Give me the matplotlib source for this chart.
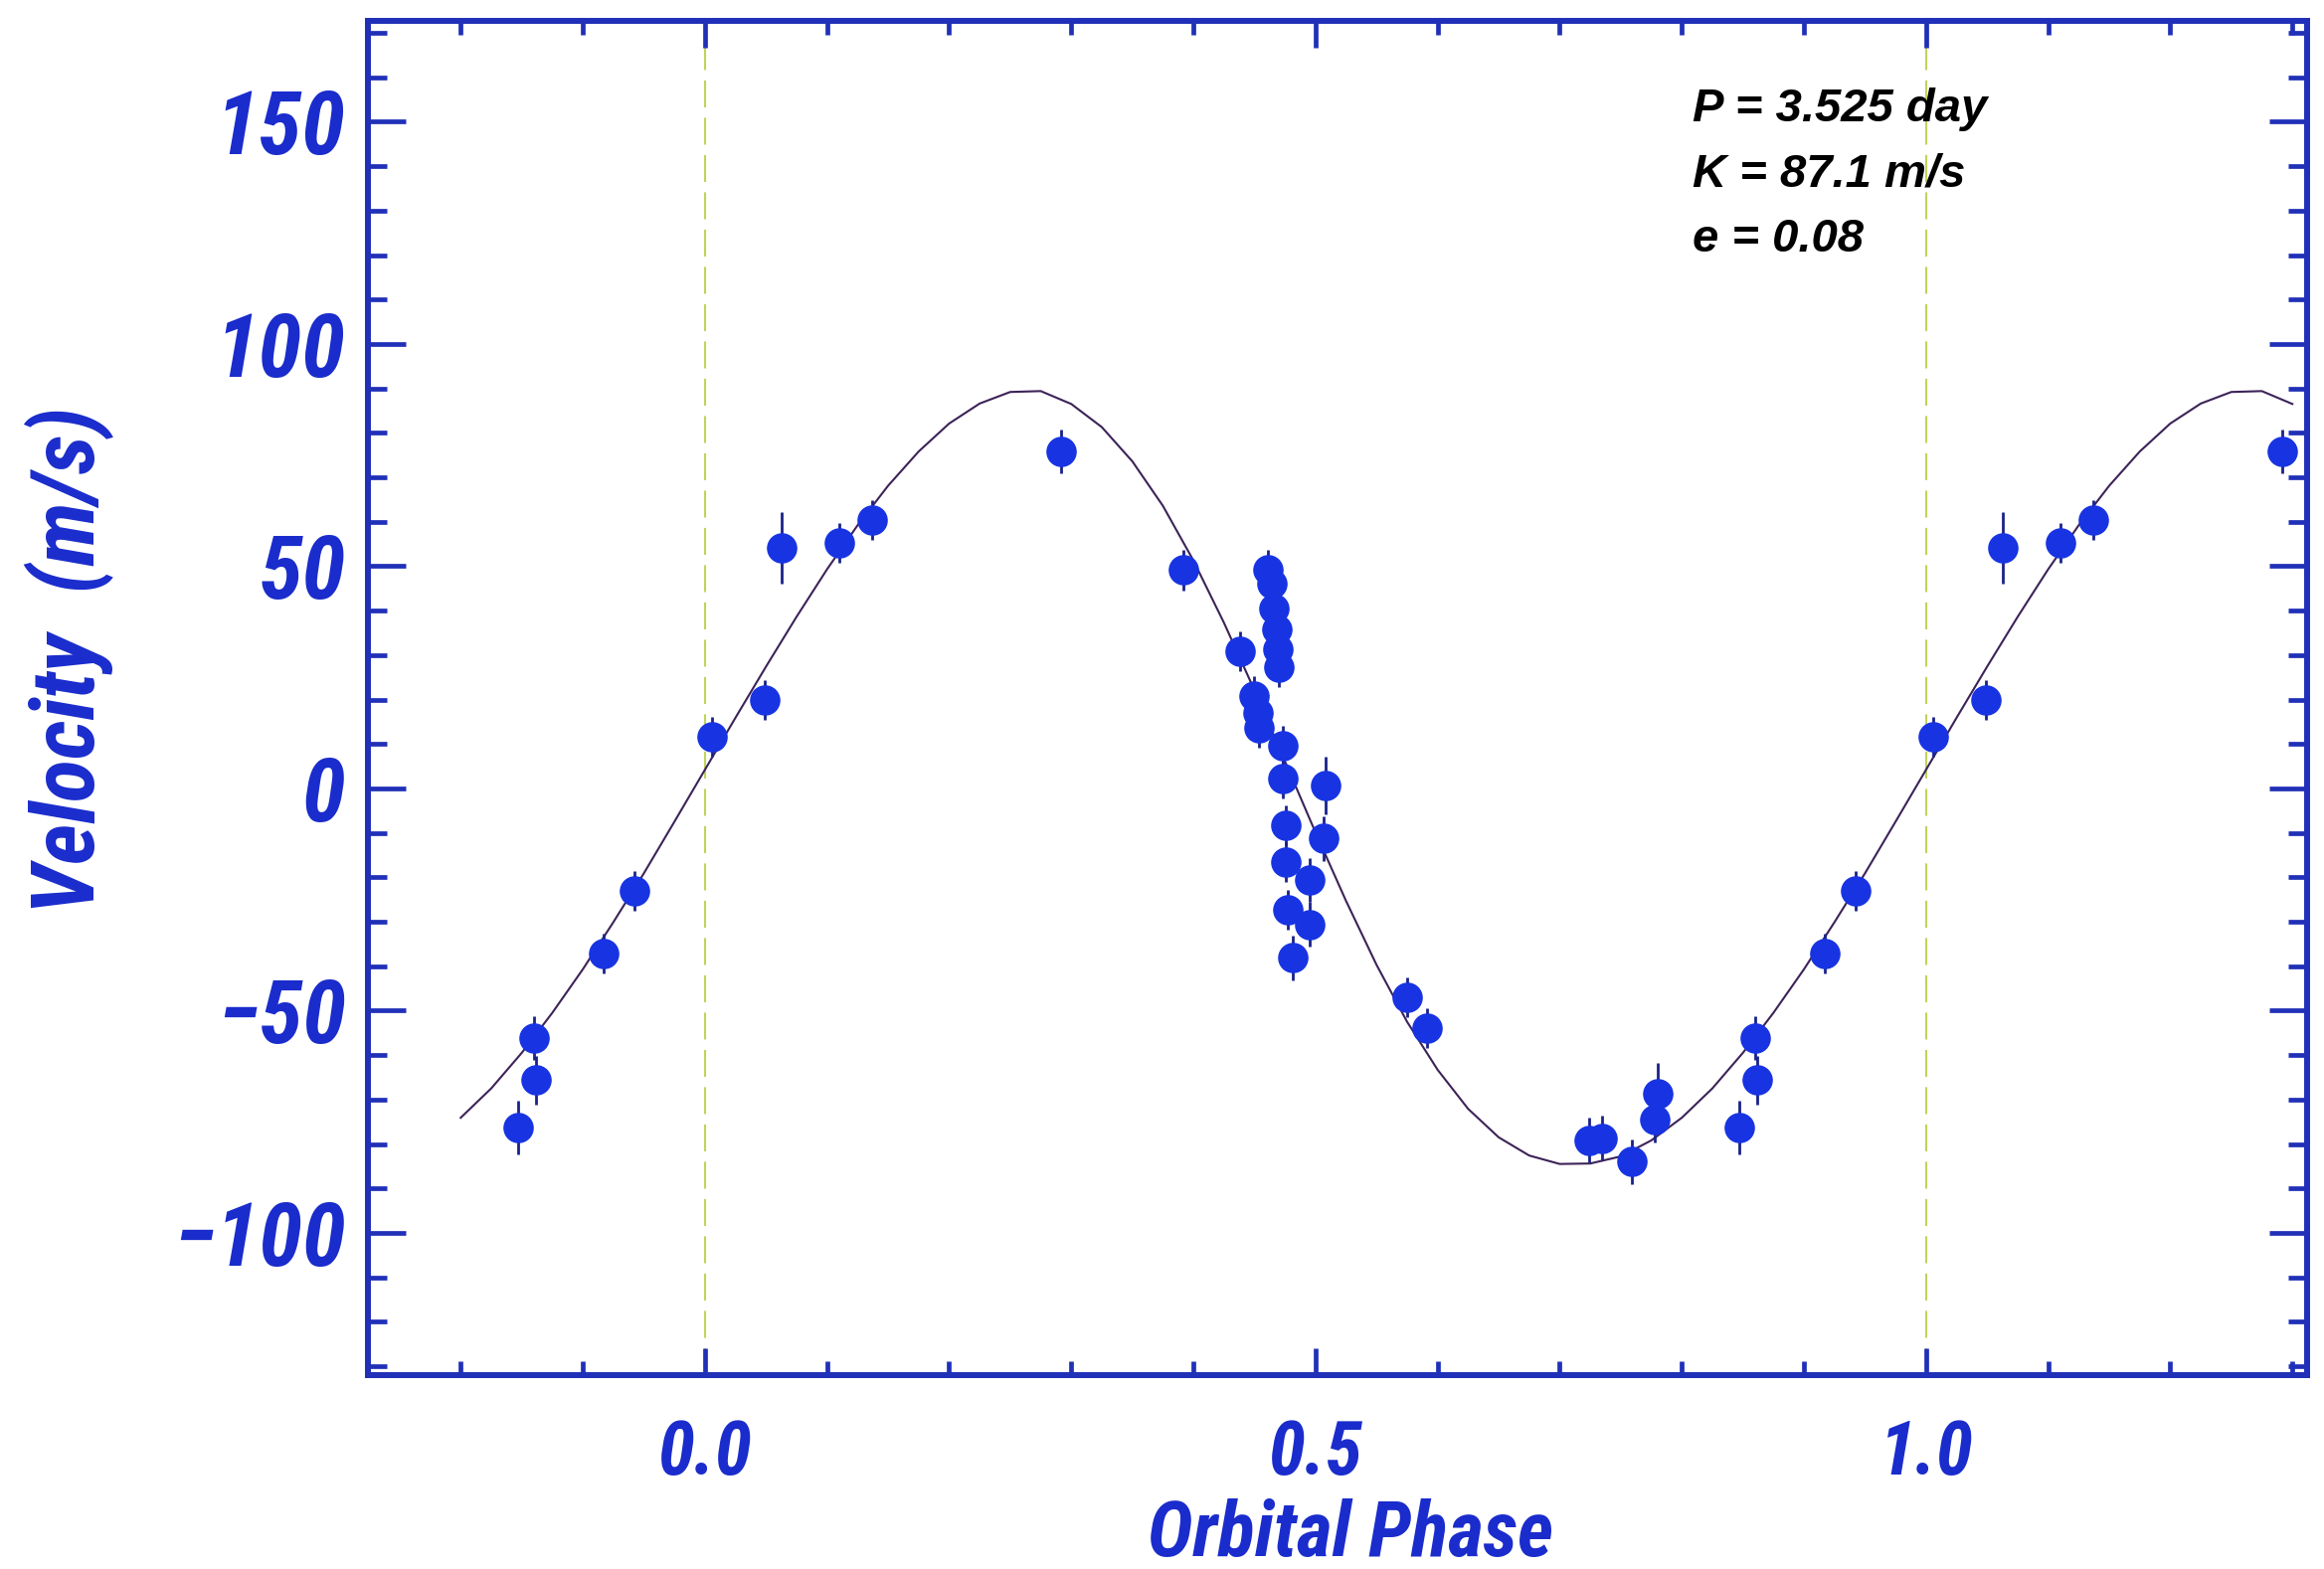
import numpy as np
import matplotlib
matplotlib.use("Agg")
import matplotlib.pyplot as plt
from matplotlib.ticker import MultipleLocator, FormatStrFormatter

# ---------------- data ----------------
# measured radial velocities, orbital phase in [0, 1)
phase = [0.006, 0.049, 0.063, 0.110, 0.137, 0.292, 0.392, 0.438, 0.450, 0.453,
         0.454, 0.461, 0.464, 0.466, 0.468, 0.469, 0.470, 0.473, 0.473, 0.476,
         0.476, 0.477, 0.481, 0.495, 0.495, 0.508, 0.507, 0.575, 0.591, 0.724,
         0.735, 0.759, 0.780, 0.778, 0.847, 0.860, 0.862, 0.917, 0.942]
velocity = [11.6, 19.9, 54.1, 55.3, 60.4, 75.8, 49.1, 30.9, 20.8, 17.1,
            13.6, 49.2, 46.0, 40.5, 35.8, 31.3, 27.3, 9.6, 2.2, -8.3,
            -16.5, -27.3, -38.1, -20.6, -30.6, 0.7, -11.3, -47.0, -53.9, -79.1,
            -78.7, -84.0, -68.7, -74.6, -76.3, -56.2, -65.6, -37.1, -23.0]
velocity_err = [4.5, 4.5, 8.0, 4.5, 4.5, 5.0, 4.5, 4.5, 4.5, 4.5,
                4.5, 4.5, 4.5, 4.5, 4.5, 4.5, 4.5, 4.5, 4.5, 4.5,
                4.5, 4.5, 5.0, 5.0, 5.0, 6.5, 5.0, 4.5, 4.5, 5.0,
                5.0, 5.0, 7.0, 5.0, 6.0, 5.0, 5.5, 4.5, 4.5]

# orbit fit curve, every 0.025 in phase
fit_phase = np.round(np.arange(61) * 0.025 - 0.2, 3)
fit_velocity = [-74.1, -67.5, -59.5, -50.5, -40.7, -30.1, -19.1, -7.5, 4.2, 15.9,
                27.4, 38.6, 49.3, 59.2, 68.1, 75.8, 82.1, 86.6, 89.2, 89.4,
                86.5, 81.3, 73.6, 63.6, 51.3, 37.3, 22.1, 6.1, -9.9, -25.3,
                -39.7, -52.5, -63.3, -72.1, -78.5, -82.6, -84.5, -84.4, -82.8, -79.2,
                -74.1, -67.5, -59.5, -50.5, -40.7, -30.1, -19.1, -7.5, 4.2, 15.9,
                27.4, 38.6, 49.3, 59.2, 68.1, 75.8, 82.1, 86.6, 89.2, 89.4,
                86.5]

fit_lines = ["P = 3.525 day", "K = 87.1 m/s", "e = 0.08"]
phase_markers = [0.0, 1.0]
xlabel = "Orbital Phase"
ylabel = "Velocity  (m/s)"

# points repeated one cycle earlier / later, as in the reference
WRAP_LOW, WRAP_HIGH = 0.3, 0.8
px, pv, pe = list(phase), list(velocity), list(velocity_err)
for p, v, s in zip(phase, velocity, velocity_err):
    if p < WRAP_LOW:
        px.append(p + 1.0); pv.append(v); pe.append(s)
    if p > WRAP_HIGH:
        px.append(p - 1.0); pv.append(v); pe.append(s)

# ---------------- style ----------------
AXBLUE = '#2030b8'
LABBLUE = '#1a2ccc'
PTBLUE = '#1733e2'
TICKFONT = ['Roboto Condensed', 'DejaVu Sans']

fig = plt.figure(figsize=(23.37, 15.78), dpi=100)
ax = fig.add_axes([0.1583, 0.1236, 0.8344, 0.8631])

for xv in phase_markers:
    ax.axvline(xv, color='#bfd45a', lw=1.5, dashes=(13, 5), zorder=1)

ax.plot(fit_phase, fit_velocity, color='#3c2358', lw=1.5, zorder=2)

ax.errorbar(px, pv, yerr=pe, fmt='o', ms=21, color=PTBLUE, mec=PTBLUE,
            ecolor='#1a2288', elinewidth=2.0, capsize=0, zorder=3)

ax.set_xlim(-0.276, 1.312)
ax.set_ylim(-132, 172.7)

ax.xaxis.set_major_locator(MultipleLocator(0.5))
ax.xaxis.set_minor_locator(MultipleLocator(0.1))
ax.xaxis.set_major_formatter(FormatStrFormatter('%.1f'))
ax.yaxis.set_major_locator(MultipleLocator(50))
ax.yaxis.set_minor_locator(MultipleLocator(10))

for sp in ax.spines.values():
    sp.set_color(AXBLUE)
    sp.set_linewidth(4.3)

ax.tick_params(axis='both', which='both', direction='in', color=AXBLUE,
               width=3.4, top=True, right=True)
ax.tick_params(axis='y', which='major', length=27.4, pad=16,
               labelsize=64, labelcolor=LABBLUE)
ax.tick_params(axis='y', which='minor', length=13.7)
ax.tick_params(axis='x', which='major', length=19.4, pad=31,
               labelsize=54, labelcolor=LABBLUE)
ax.tick_params(axis='x', which='minor', length=10)

for lab in ax.get_xticklabels() + ax.get_yticklabels():
    lab.set_family(TICKFONT)
    lab.set_fontweight('bold')
    lab.set_fontstyle('italic')

fig.text(1358 / 2337, 13 / 1578, xlabel, ha='center', va='baseline',
         color=LABBLUE, fontsize=56, family=TICKFONT, weight='bold', style='italic')
fig.text(70 / 2337, 1 - 664 / 1578, ylabel, ha='center', va='center', rotation=90,
         color=LABBLUE, fontsize=64, family=TICKFONT, weight='bold', style='italic')

for txt, yb in zip(fit_lines, [0.9258, 0.8774, 0.8297]):
    ax.text(0.6831, yb, txt, transform=ax.transAxes, ha='left', va='baseline',
            fontsize=34, color='black', family=['Liberation Sans', 'DejaVu Sans'],
            weight='bold', style='italic', zorder=4)

fig.savefig("out.png", dpi=100, facecolor='white')
